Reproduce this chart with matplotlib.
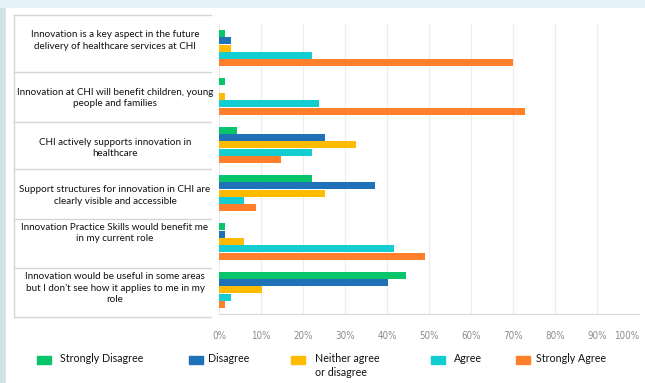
import numpy as np
import matplotlib
matplotlib.use("Agg")
import matplotlib.pyplot as plt
from matplotlib.patches import Rectangle
from matplotlib.ticker import FuncFormatter

# statements (table rows, top to bottom)
statements = [
    "Innovation is a key aspect in the future\ndelivery of healthcare services at CHI",
    "Innovation at CHI will benefit children, young\npeople and families",
    "CHI actively supports innovation in\nhealthcare",
    "Support structures for innovation in CHI are\nclearly visible and accessible",
    "Innovation Practice Skills would benefit me\nin my current role",
    "Innovation would be useful in some areas\nbut I don\u2019t see how it applies to me in my\nrole",
]
series_names = ["Strongly Disagree", "Disagree", "Neither agree\nor disagree",
                "Agree", "Strongly Agree"]
strongly_disagree = [1.4, 1.4, 4.3, 22.2, 1.4, 44.5]
disagree = [2.8, 0.0, 25.2, 37.1, 1.4, 40.1]
neither = [2.8, 1.4, 32.6, 25.2, 5.8, 10.2]
agree = [22.2, 23.7, 22.2, 5.8, 41.6, 2.8]
strongly_agree = [70.0, 72.9, 14.7, 8.8, 49.0, 1.4]
x_ticks = [0, 10, 20, 30, 40, 50, 60, 70, 80, 90, 100]

colors = ["#08c46b", "#1f72b8", "#ffbb00", "#14cdd0", "#ff7f2a"]
values = [strongly_disagree, disagree, neither, agree, strongly_agree]

W, H = 645, 383
fig = plt.figure(figsize=(W / 100, H / 100), dpi=100)

# overlay in pixel coords for background, table and legend
ov = fig.add_axes([0, 0, 1, 1])
ov.set_xlim(0, W)
ov.set_ylim(H, 0)
ov.axis("off")
ov.add_patch(Rectangle((0, 0), W, H, color="#e3f2f7", zorder=0))
ov.add_patch(Rectangle((0, 8), 6, H, color="#d3e2e6", zorder=0))
ov.add_patch(Rectangle((6, 8), W, H, color="white", zorder=1))

# table lines
row_lines = [14.7, 71.7, 121.7, 169.3, 219.3, 268.3, 316.7]
for yy in row_lines:
    ov.plot([14, 211], [yy, yy], color="#d6d6d6", lw=1, zorder=2)
ov.plot([14, 14], [row_lines[0], row_lines[-1]], color="#d6d6d6", lw=1, zorder=2)

row_centers = [40.7, 98, 148, 195.7, 233, 288]
for txt, yc in zip(statements, row_centers):
    ov.text(115, yc, txt, ha="center", va="center", fontsize=7.1,
            family="Lato", color="#111111", linespacing=1.35, zorder=3)

# legend, drawn by hand
sq_x = [36.7, 189, 290.7, 430.7, 515.7]
tx_x = [60, 208, 315, 454, 536]
for name, c, sx, tx in zip(series_names, colors, sq_x, tx_x):
    ov.add_patch(Rectangle((sx, 356), 14, 7.5, color=c, zorder=3))
    ov.text(tx, 353.5, name, ha="left", va="top", fontsize=7.7, family="Lato",
            color="#111111", linespacing=1.3, zorder=3)

# main bar chart
ax = fig.add_axes([219.3 / W, (H - 314) / H, 419.7 / W, 290 / H])
ax.set_facecolor("none")
y = np.arange(len(statements))
step = 0.151
for k, (vals, c) in enumerate(zip(values, colors)):
    ax.barh(y + (k - 2) * step, vals, height=step * 0.96, color=c,
            zorder=3)
ax.set_xlim(0, 100)
ax.set_ylim(len(statements) - 0.5, -0.5)
ax.set_xticks(x_ticks)
ax.xaxis.set_major_formatter(FuncFormatter(lambda v, p: f"{v:.0f}%"))
ax.set_yticks([])
ax.grid(axis="x", color="#ececec", lw=0.8, zorder=0)
for s in ["top", "right", "left"]:
    ax.spines[s].set_visible(False)
ax.spines["bottom"].set_color("#d9d9d9")
ax.tick_params(axis="x", length=0, pad=12, labelsize=7, labelcolor="#8a8a8a")
for lab in ax.get_xticklabels():
    lab.set_family("DejaVu Sans")
    lab.set_stretch("condensed")
ax.get_xticklabels()[-1].set_horizontalalignment("right")
ax.get_xticklabels()[-1].set_x(100)

fig.savefig("out.png", dpi=100)
